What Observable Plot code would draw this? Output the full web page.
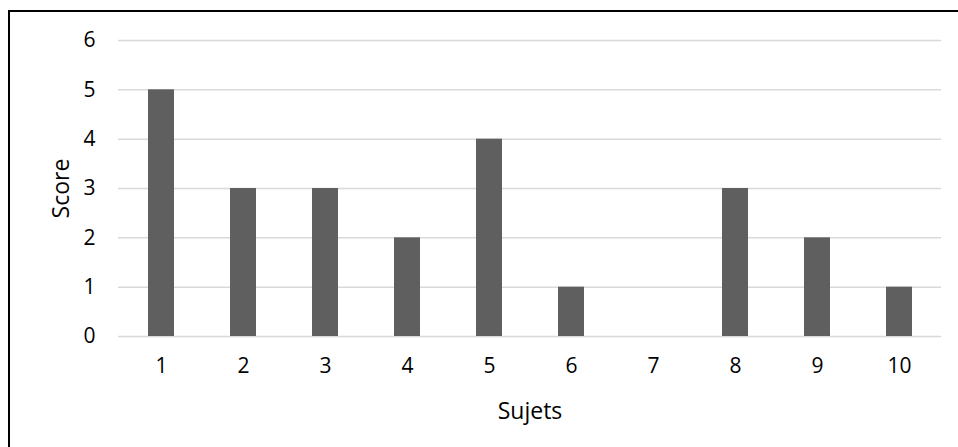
<!DOCTYPE html>
<html>
<head>
<meta charset="utf-8">
<script src="https://cdn.jsdelivr.net/npm/d3@7"></script>
<script src="https://cdn.jsdelivr.net/npm/@observablehq/plot@0.6"></script>
<style>
  html, body { margin: 0; padding: 0; background: #fff; }
  #wrap { position: relative; width: 958px; height: 447px; overflow: hidden; }
  #frame { position: absolute; left: 8px; top: 10px; right: -4px; bottom: -4px; border-top: 2px solid #000; border-left: 2px solid #000; pointer-events: none; }
</style>
</head>
<body>
<div id="wrap"><div id="frame"></div></div>
<script>
const sujets = [1, 2, 3, 4, 5, 6, 7, 8, 9, 10];
const scores = [5, 3, 3, 2, 4, 1, 0, 3, 2, 1];
const yTicks = [0, 1, 2, 3, 4, 5, 6];

const data = sujets.map((s, i) => ({sujet: s, score: scores[i]}));

const chart = Plot.plot({
  width: 958,
  height: 447,
  marginLeft: 118,
  marginRight: 17,
  marginTop: 40,
  marginBottom: 111,
  style: {fontFamily: "'Open Sans', sans-serif", fontSize: "21px", color: "#000", background: "transparent"},
  x: {type: "band", domain: sujets, paddingInner: 0.684, paddingOuter: 0.342},
  y: {domain: [0, 6]},
  marks: [
    Plot.gridY(yTicks, {stroke: "#d9d9d9", strokeOpacity: 1, strokeWidth: 1.5}),
    Plot.barY(data, {x: "sujet", y: "score", fill: "#5f5f5f"}),
    Plot.axisY(yTicks, {tickSize: 0, tickPadding: 23, label: null, fontSize: 21}),
    Plot.axisY([], {label: "Score", labelAnchor: "center", labelArrow: "none", labelOffset: 66, fontSize: 23}),
    Plot.axisX({tickSize: 0, tickPadding: 22, label: null, fontSize: 21}),
    Plot.axisX([], {label: "Sujets", labelAnchor: "center", labelArrow: "none", labelOffset: 82, fontSize: 23})
  ]
});
document.getElementById("wrap").prepend(chart);
</script>
</body>
</html>
